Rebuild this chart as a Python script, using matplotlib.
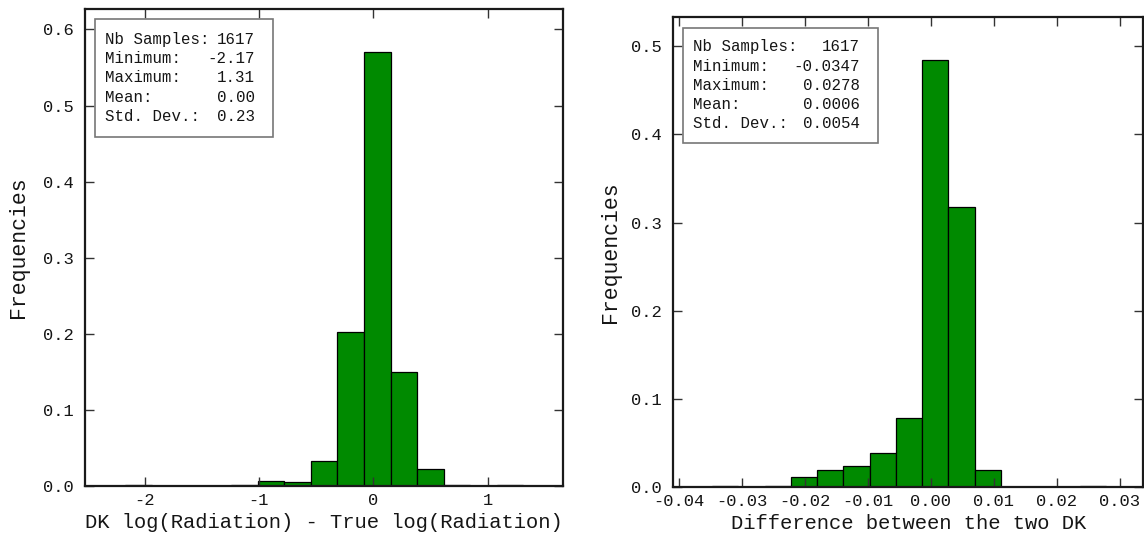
import numpy as np
import matplotlib
matplotlib.use("Agg")
import matplotlib.pyplot as plt
from matplotlib.patches import Rectangle

# left histogram: DK log(Radiation) - True log(Radiation)
left_edges = [-2.170, -1.938, -1.706, -1.474, -1.242, -1.010, -0.778, -0.546,
              -0.314, -0.082, 0.150, 0.382, 0.614, 0.846, 1.078, 1.310]
left_freq = [0.0006, 0.0, 0.0, 0.0, 0.0012, 0.0062, 0.0048, 0.033,
             0.202, 0.571, 0.149, 0.022, 0.0013, 0.0, 0.0006]
left_xticks = [-2, -1, 0, 1]
left_yticks = [0.0, 0.1, 0.2, 0.3, 0.4, 0.5, 0.6]
left_stats = ["1617", "-2.17", "1.31", "0.00", "0.23"]

# right histogram: difference between the two DK
right_edges = [-0.0347, -0.03053, -0.02637, -0.0222, -0.01803, -0.01387, -0.0097,
               -0.00553, -0.00137, 0.0028, 0.00697, 0.01113, 0.0153, 0.01947,
               0.02363, 0.0278]
right_freq = [0.0006, 0.0, 0.0012, 0.0106, 0.019, 0.0235, 0.038, 0.078,
              0.484, 0.318, 0.0186, 0.0, 0.0, 0.0, 0.0006]
right_xticks = [-0.04, -0.03, -0.02, -0.01, 0.00, 0.01, 0.02, 0.03]
right_yticks = [0.0, 0.1, 0.2, 0.3, 0.4, 0.5]
right_stats = ["1617", "-0.0347", "0.0278", "0.0006", "0.0054"]

stat_names = ["Nb Samples:", "Minimum:", "Maximum:", "Mean:", "Std. Dev.:"]

plt.rcParams['font.family'] = ['Liberation Mono', 'DejaVu Sans Mono']
plt.rcParams['axes.unicode_minus'] = False
text_color = '#151515'
bar_color = '#008a00'

fig = plt.figure(figsize=(11.44, 5.4), dpi=100)


def draw_panel(rect, edges, freq, xticks, yticks, xfmt, xlim, ylim, xlabel,
               stats, box, text_x, text_y0, line_step, ylabel_x):
    ax = fig.add_axes(rect)
    edges = np.array(edges)
    ax.bar(edges[:-1], freq, width=np.diff(edges), align='edge',
           color=bar_color, edgecolor='black', linewidth=0.9)
    ax.set_xlim(xlim)
    ax.set_ylim(ylim)
    ax.set_xticks(xticks)
    ax.set_xticklabels([xfmt.format(v) for v in xticks])
    ax.set_yticks(yticks)
    ax.set_yticklabels(["{:.1f}".format(v) for v in yticks])
    ax.tick_params(direction='in', length=6.5, width=1, color='#333333',
                   top=True, right=True, labelsize=12.3, labelcolor=text_color)
    ax.tick_params(axis='x', pad=5)
    ax.tick_params(axis='y', pad=8)
    for s in ax.spines.values():
        s.set_linewidth(1.6)
        s.set_color('#1a1a1a')
    ax.set_xlabel(xlabel, fontsize=14.8, color=text_color, labelpad=4)
    ax.set_ylabel("Frequencies", fontsize=15.5, color=text_color)
    ax.yaxis.set_label_coords(ylabel_x, 0.5)

    # statistics box
    ax.add_patch(Rectangle((box[0], box[2]), box[1] - box[0], box[3] - box[2],
                           transform=ax.transAxes, facecolor='white',
                           edgecolor='#777777', linewidth=1.2, zorder=5))
    for i, (name, val) in enumerate(zip(stat_names, stats)):
        y = text_y0 - i * line_step
        ax.text(text_x[0], y, name, transform=ax.transAxes, fontsize=11.3,
                color=text_color, ha='left', va='center', zorder=6)
        ax.text(text_x[1], y, val, transform=ax.transAxes, fontsize=11.3,
                color=text_color, ha='right', va='center', zorder=6)
    return ax


draw_panel([0.0743, 0.1006, 0.4181, 0.8828], left_edges, left_freq,
           left_xticks, left_yticks, "{:d}", (-2.52, 1.66), (0, 0.627),
           "DK log(Radiation) - True log(Radiation)", left_stats,
           (0.0209, 0.3924, 0.7321, 0.9784), (0.0418, 0.3554), 0.9364, 0.0405,
           -0.118)

draw_panel([0.5886, 0.0987, 0.4105, 0.8692], right_edges, right_freq,
           right_xticks, right_yticks, "{:.2f}", (-0.04086, 0.0337), (0, 0.533),
           "Difference between the two DK", right_stats,
           (0.020, 0.4352, 0.7316, 0.9778), (0.0413, 0.397), 0.9374, 0.0411,
           -0.112)

fig.savefig("out.png", dpi=100)
